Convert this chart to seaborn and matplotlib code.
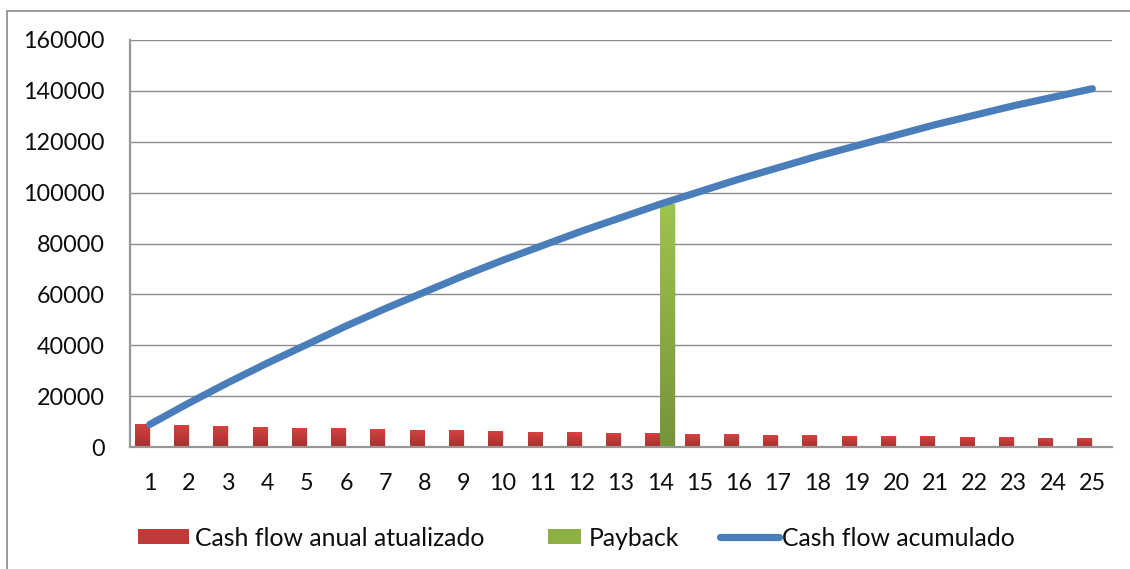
import numpy as np
import pandas as pd
import matplotlib
matplotlib.use("Agg")
import matplotlib.pyplot as plt
import seaborn as sns
from matplotlib.colors import LinearSegmentedColormap
from matplotlib.patches import Patch, Rectangle
from matplotlib.lines import Line2D

# Discounted annual cash flow and cumulative cash flow per year
years = list(range(1, 26))
cash_flow_anual = [8840, 8450, 8060, 7660, 7270, 7270, 6880, 6480, 6480, 6090,
                   5700, 5700, 5300, 5300, 4900, 4900, 4520, 4520, 4130, 4130,
                   4130, 3730, 3730, 3340, 3340]
cash_flow_acumulado = [8840, 17290, 25350, 33010, 40280, 47550, 54430, 60910,
                       67390, 73480, 79180, 84880, 90180, 95480, 100380, 105280,
                       109800, 114320, 118450, 122580, 126710, 130440, 134170,
                       137510, 140850]
payback_year = 14
payback_value = 95480

lbl_cf = "Cash flow anual atualizado"
lbl_pb = "Payback"
lbl_acc = "Cash flow acumulado"

y_ticks = list(range(0, 160001, 20000))

W, H = 1130, 569
sns.set_theme(style="white")
plt.rcParams["font.family"] = ["Lato", "DejaVu Sans"]

fig = plt.figure(figsize=(W / 100, H / 100), dpi=100)
ax = fig.add_axes([130 / W, 1 - 447 / H, (1112 - 130) / W, (447 - 40) / H])

bars = pd.DataFrame({
    "ano": years * 2,
    "valor": cash_flow_anual + [payback_value if y == payback_year else np.nan for y in years],
    "serie": [lbl_cf] * len(years) + [lbl_pb] * len(years),
})

red_top, red_bot = "#d4433f", "#a52f2e"
grn_top, grn_bot = "#9dc44c", "#76943a"
blue = "#4a7ebb"

sns.barplot(data=bars, x="ano", y="valor", hue="serie",
            hue_order=[lbl_cf, lbl_pb], palette=[red_top, grn_top],
            width=0.76, dodge=True, legend=False, ax=ax, zorder=2,
            linewidth=0, saturation=1)


def gradient_fill(patch, top, bottom):
    x0, y0 = patch.get_x(), patch.get_y()
    w, h = patch.get_width(), patch.get_height()
    if not np.isfinite(h) or h == 0:
        return
    # soft shadow
    ax.add_patch(Rectangle((x0 + w * 0.06, y0 - 900), w, h + 900,
                           facecolor="#000000", alpha=0.10, linewidth=0,
                           zorder=1.8))
    cmap = LinearSegmentedColormap.from_list("g", [top, bottom])
    grad = np.linspace(0, 1, 256).reshape(-1, 1)
    ax.imshow(grad, extent=(x0, x0 + w, y0, y0 + h), origin="upper",
              cmap=cmap, aspect="auto", zorder=2.1, interpolation="bilinear")
    patch.set_facecolor("none")


patches = list(ax.patches)
n = len(years)
for i, p in enumerate(patches[:n]):
    gradient_fill(p, red_top, red_bot)
for p in patches[n:2 * n]:
    gradient_fill(p, grn_top, grn_bot)

sns.lineplot(x=np.arange(n), y=cash_flow_acumulado, color=blue, linewidth=5.2,
             ax=ax, zorder=3, solid_capstyle="round")

ax.set_xlim(-0.5, n - 0.5)
ax.set_ylim(0, 160000)
ax.set_yticks(y_ticks)
ax.set_yticklabels([str(v) for v in y_ticks])
ax.set_xticks(np.arange(n))
ax.set_xticklabels([str(y) for y in years])
ax.set_xlabel("")
ax.set_ylabel("")
ax.tick_params(axis="y", length=0, pad=18, labelsize=16.8, labelcolor="#0d0d0d")
ax.tick_params(axis="x", length=0, pad=19, labelsize=16.8, labelcolor="#0d0d0d")

ax.set_axisbelow(True)
ax.grid(axis="y", color="#8c8c8c", linewidth=1.0)
for s in ["top", "right"]:
    ax.spines[s].set_visible(False)
for s in ["left", "bottom"]:
    ax.spines[s].set_color("#979797")
    ax.spines[s].set_linewidth(1.6)
    ax.spines[s].set_zorder(4)

# Outer chart border
fig.add_artist(Rectangle((7 / W, -0.1), 1.2, 1 - 11 / H + 0.1,
                         transform=fig.transFigure, fill=False,
                         edgecolor="#8a8a8a", linewidth=1.2))

# Legend entries
fs = 17.8
entries = [
    (Patch(facecolor="#c03b38", edgecolor="none"), lbl_cf, 138, 2.05, 0.25),
    (Patch(facecolor="#8db043", edgecolor="none"), lbl_pb, 548, 1.35, 0.3),
    (Line2D([], [], color=blue, linewidth=5.2, solid_capstyle="round"), lbl_acc, 720, 2.4, 0.12),
]
for handle, label, x, hl, tp in entries:
    fig.legend(handles=[handle], labels=[label], loc="center left",
               bbox_to_anchor=(x / W, 1 - 538 / H), frameon=False,
               borderpad=0, borderaxespad=0, handlelength=hl,
               handleheight=0.55, handletextpad=tp, fontsize=fs,
               labelcolor="#0d0d0d")

fig.savefig("out.png", dpi=100)
